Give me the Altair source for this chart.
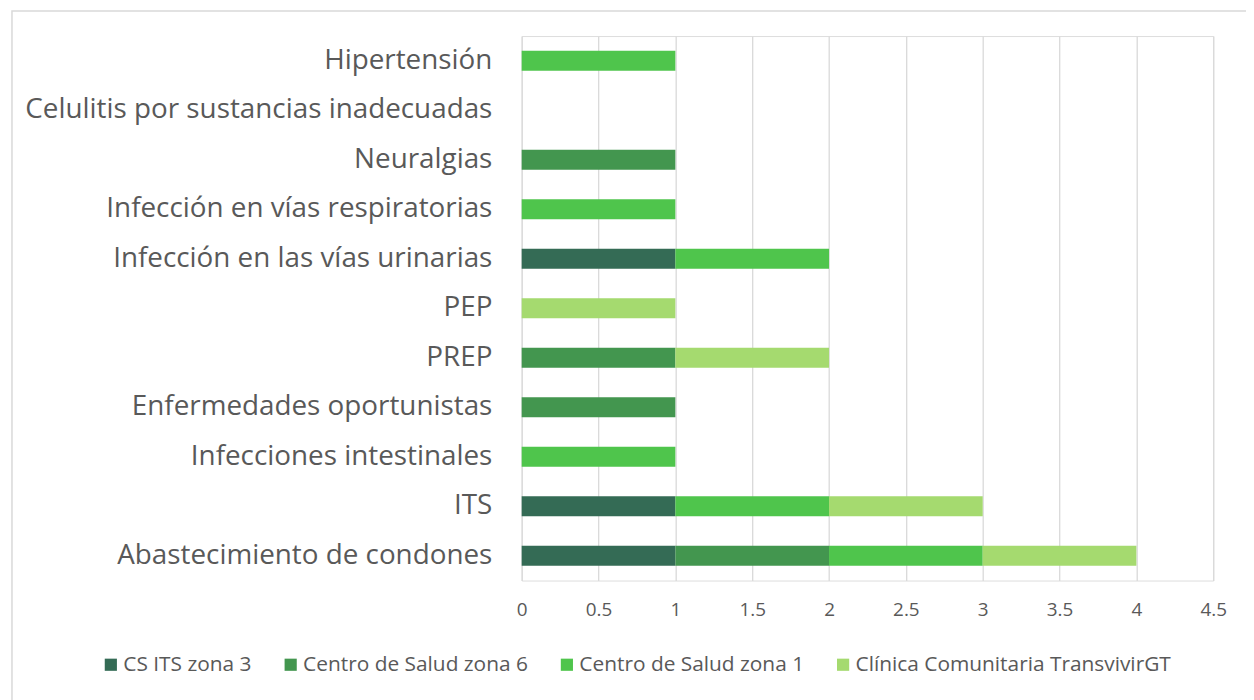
import altair as alt
import pandas as pd

categories = [
    "Hipertensión",
    "Celulitis por sustancias inadecuadas",
    "Neuralgias",
    "Infección en vías respiratorias",
    "Infección en las vías urinarias",
    "PEP",
    "PREP",
    "Enfermedades oportunistas",
    "Infecciones intestinales",
    "ITS",
    "Abastecimiento de condones",
]
series = ["CS ITS zona 3", "Centro de Salud zona 6", "Centro de Salud zona 1", "Clínica Comunitaria TransvivirGT"]
colors = ["#346B55", "#43964F", "#4FC54C", "#A5DA6F"]

cs_its_zona3 = [0, 0, 0, 0, 1, 0, 0, 0, 0, 1, 1]
cs_zona6 = [0, 0, 1, 0, 0, 0, 1, 1, 0, 0, 1]
cs_zona1 = [1, 0, 0, 1, 1, 0, 0, 0, 1, 1, 1]
clinica = [0, 0, 0, 0, 0, 1, 1, 0, 0, 1, 1]

rows = []
for s_i, (s, vals) in enumerate(zip(series, [cs_its_zona3, cs_zona6, cs_zona1, clinica])):
    for c, v in zip(categories, vals):
        rows.append({"Categoria": c, "Serie": s, "Valor": v, "orden": s_i})
df = pd.DataFrame(rows)

FONT = "Open Sans"
GREY = "#595959"

bars = alt.Chart(df).mark_bar(size=20).encode(
    y=alt.Y("Categoria:N", sort=categories, title=None,
            axis=alt.Axis(labelFontSize=28, labelColor=GREY, labelFont=FONT, ticks=False,
                          domain=False, labelPadding=30, labelLimit=600, grid=False)),
    x=alt.X("Valor:Q", stack="zero", title=None,
            scale=alt.Scale(domain=[0, 4.5], nice=False),
            axis=alt.Axis(values=[0, 0.5, 1, 1.5, 2, 2.5, 3, 3.5, 4, 4.5], format="~g",
                          labelFontSize=19, labelColor=GREY, labelFont=FONT, ticks=False,
                          labelFlush=False,
                          domain=False, grid=True, gridColor="#D9D9D9", gridWidth=1.3,
                          labelPadding=20)),
    color=alt.Color("Serie:N", sort=series, scale=alt.Scale(domain=series, range=colors),
                    legend=alt.Legend(title=None, orient="none", direction="horizontal",
                                      legendX=-424, legendY=622, symbolType="square",
                                      symbolSize=150, symbolStrokeWidth=0,
                                      labelFontSize=21, labelColor=GREY, labelFont=FONT,
                                      labelLimit=500, columnPadding=28, labelOffset=2)),
    order=alt.Order("orden:Q"),
)

border = alt.Chart(pd.DataFrame({"b": [0]})).mark_rect(
    fill=None, stroke="#D9D9D9", strokeWidth=1.5, clip=False
).encode(x=alt.value(-513), x2=alt.value(760), y=alt.value(-25.2), y2=alt.value(700))

chart = alt.layer(border, bars).properties(
    width=696, height=548,
    autosize=alt.AutoSizeParams(type="none"),
    padding={"left": 517, "top": 26, "right": 33, "bottom": 118},
).configure_view(stroke=None).configure(background="white")

chart.save("out.html", embed_options={"renderer": "svg", "actions": False})
